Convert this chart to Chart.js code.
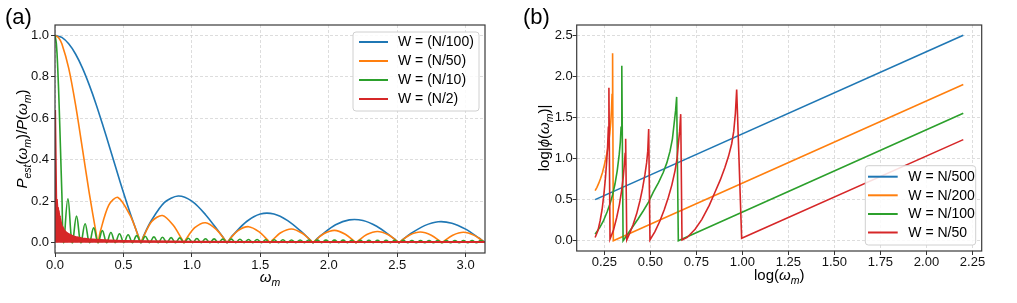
<!DOCTYPE html>
<html>
<head>
<meta charset="utf-8">
<script src="https://cdn.jsdelivr.net/npm/chart.js@4.4.1/dist/chart.umd.min.js"></script>
<style>
  html, body { margin: 0; padding: 0; background: #fff; }
  #wrap { position: relative; width: 1017px; height: 303px; }
  #chartA { position: absolute; left: 0; top: 0; }
  #chartB { position: absolute; left: 510px; top: 0; }
</style>
</head>
<body>
<div id="wrap">
  <canvas id="chartA" width="510" height="303"></canvas>
  <canvas id="chartB" width="507" height="303"></canvas>
</div>
<script>
// ---------- panel (a): P_est / P against omega ----------
const aLabels = ['W = (N/100)', 'W = (N/50)', 'W = (N/10)', 'W = (N/2)'];
const aXTicks = [0, 0.5, 1.0, 1.5, 2.0, 2.5, 3.0];
const aYTicks = [0, 0.2, 0.4, 0.6, 0.8, 1.0];

const aBlueX = [0, 0.05, 0.1, 0.15, 0.2, 0.25, 0.3, 0.35, 0.4, 0.45, 0.5, 0.55, 0.6, 0.628,
  0.65, 0.7, 0.8, 0.9, 1.0, 1.1, 1.2, 1.235, 1.257, 1.28, 1.3, 1.4, 1.5, 1.6, 1.7, 1.8, 1.86, 1.885,
  1.91, 1.95, 2.05, 2.15, 2.25, 2.35, 2.45, 2.49, 2.513, 2.54, 2.6, 2.7, 2.8, 2.9, 3.0, 3.1, 3.12, 3.1416];
const aBlueY = [1.0, 0.990, 0.959, 0.910, 0.843, 0.761, 0.668, 0.565, 0.458, 0.349, 0.242, 0.141, 0.048, 0.0,
  0.036, 0.102, 0.194, 0.225, 0.200, 0.135, 0.050, 0.019, 0.0, 0.020, 0.036, 0.102, 0.138, 0.138, 0.106, 0.053, 0.016, 0.0,
  0.016, 0.039, 0.086, 0.110, 0.107, 0.079, 0.033, 0.012, 0.0, 0.014, 0.044, 0.082, 0.101, 0.094, 0.065, 0.021, 0.011, 0.0];

const aOrangeX = [0, 0.025, 0.05, 0.1, 0.15, 0.2, 0.25, 0.3, 0.314,
  0.33, 0.393, 0.46, 0.550, 0.613, 0.628,
  0.643, 0.707, 0.785, 0.864, 0.927, 0.942,
  0.957, 1.021, 1.100, 1.178, 1.242, 1.257,
  1.272, 1.335, 1.414, 1.492, 1.556, 1.571,
  1.586, 1.649, 1.728, 1.806, 1.870, 1.885,
  1.900, 1.964, 2.042, 2.121, 2.184, 2.199,
  2.214, 2.278, 2.356, 2.435, 2.498, 2.513,
  2.528, 2.592, 2.670, 2.749, 2.812, 2.827,
  2.842, 2.906, 2.985, 3.063, 3.127, 3.1416];
const aOrangeY = [1.0, 0.990, 0.959, 0.842, 0.666, 0.455, 0.240, 0.047, 0.0,
  0.051, 0.181, 0.218, 0.130, 0.024, 0.0,
  0.024, 0.102, 0.131, 0.084, 0.0165, 0.0,
  0.0165, 0.072, 0.096, 0.064, 0.0128, 0.0,
  0.0128, 0.057, 0.077, 0.052, 0.0106, 0.0,
  0.0106, 0.048, 0.066, 0.045, 0.0093, 0.0,
  0.0093, 0.0425, 0.059, 0.0405, 0.0084, 0.0,
  0.0084, 0.039, 0.054, 0.038, 0.0079, 0.0,
  0.0079, 0.037, 0.051, 0.036, 0.0076, 0.0,
  0.0076, 0.036, 0.050, 0.035, 0.0075, 0.0];

const aGreenX = [0, 0.01, 0.02, 0.03, 0.04, 0.05, 0.0628,
  0.0942, 0.1257, 0.1571, 0.1885, 0.2199, 0.2513, 0.2827, 0.3142, 0.3456, 0.3770,
  0.4084, 0.4398, 0.4712, 0.5027, 0.5341, 0.5655, 0.5969, 0.6283, 0.6597, 0.6912,
  0.7226, 0.7540, 0.7854, 0.8168, 0.8482, 0.8796, 0.9111, 0.9425, 0.9739, 1.0053,
  1.0367, 1.0681, 1.0996, 1.1310, 1.1624, 1.1938, 1.2252, 1.2566, 1.2881, 1.3195,
  1.3509, 1.3823, 1.4137, 1.4451, 1.4765, 1.5080, 1.5394, 1.5708, 1.6022, 1.6336,
  1.6650, 1.6965, 1.7279, 1.7593, 1.7907, 1.8221, 1.8535, 1.8850, 1.9164, 1.9478,
  1.9792, 2.0106, 2.0420, 2.0735, 2.1049, 2.1363, 2.1677, 2.1991, 2.2305, 2.2619,
  2.2934, 2.3248, 2.3562, 2.3876, 2.4190, 2.4504, 2.4819, 2.5133, 2.5447, 2.5761,
  2.6075, 2.6389, 2.6704, 2.7018, 2.7332, 2.7646, 2.7960, 2.8274, 2.8588, 2.8903,
  2.9217, 2.9531, 2.9845, 3.0159, 3.0473, 3.0788, 3.1102, 3.1416];
const aGreenY = [1.0, 0.959, 0.842, 0.666, 0.455, 0.240, 0.0,
  0.212, 0, 0.128, 0, 0.091, 0, 0.071, 0, 0.058, 0,
  0.049, 0, 0.043, 0, 0.038, 0, 0.034, 0, 0.031, 0,
  0.028, 0, 0.026, 0, 0.024, 0, 0.023, 0, 0.021, 0,
  0.020, 0, 0.019, 0, 0.018, 0, 0.017, 0, 0.017, 0,
  0.016, 0, 0.015, 0, 0.015, 0, 0.014, 0, 0.014, 0,
  0.014, 0, 0.013, 0, 0.013, 0, 0.013, 0, 0.012, 0,
  0.012, 0, 0.012, 0, 0.012, 0, 0.011, 0, 0.011, 0,
  0.011, 0, 0.011, 0, 0.011, 0, 0.011, 0, 0.011, 0,
  0.010, 0, 0.010, 0, 0.010, 0, 0.010, 0, 0.010, 0,
  0.010, 0, 0.010, 0, 0.010, 0, 0.010, 0];

// red curve oscillates too fast to resolve: drawn as its filled envelope
const aRedX = [0, 0.004, 0.008, 0.011, 0.014, 0.018, 0.021, 0.026, 0.030, 0.035, 0.040, 0.048, 0.055,
  0.065, 0.08, 0.1, 0.13, 0.16, 0.2, 0.25, 0.3, 0.4, 0.5, 0.7, 1.0, 1.5, 2.0, 2.5, 3.1416];
const aRedY = [0.64, 0.64, 0.21, 0.19, 0.21, 0.15, 0.17, 0.12, 0.13, 0.10, 0.105, 0.08, 0.075,
  0.06, 0.05, 0.04, 0.031, 0.025, 0.02, 0.016, 0.013, 0.010, 0.008, 0.006, 0.004, 0.003, 0.003, 0.003, 0.003];

// ---------- panel (b): log|phi| against log(omega) ----------
const bLabels = ['W = N/500', 'W = N/200', 'W = N/100', 'W = N/50'];
const bXTicks = [0.25, 0.5, 0.75, 1.0, 1.25, 1.5, 1.75, 2.0, 2.25];
const bYTicks = [0, 0.5, 1.0, 1.5, 2.0, 2.5];

const bBlueX = [0.2, 2.2];
const bBlueY = [0.5, 2.5];
const bOrangeX = [0.2, 0.21, 0.22, 0.23, 0.24, 0.25, 0.26, 0.27, 0.28, 0.285, 0.289, 0.292, 0.294, 0.296,
  0.299, 2.2];
const bOrangeY = [0.61, 0.65, 0.70, 0.76, 0.83, 0.92, 1.02, 1.13, 1.31, 1.44, 1.59, 1.78, 1.98, 2.28,
  0.0, 1.9];
const bGreenX = [0.2, 0.225, 0.245, 0.265, 0.281, 0.295, 0.308, 0.32, 0.331, 0.337, 0.341, 0.344, 0.346,
  0.352, 0.38, 0.407, 0.435, 0.462, 0.49, 0.516, 0.545, 0.57, 0.59, 0.607, 0.62, 0.629, 0.637, 0.643,
  0.652, 2.2];
const bGreenY = [0.08, 0.16, 0.24, 0.35, 0.45, 0.56, 0.69, 0.85, 1.05, 1.2, 1.38, 1.65, 2.13,
  0.0, 0.09, 0.18, 0.27, 0.365, 0.47, 0.59, 0.71, 0.83, 0.95, 1.09, 1.24, 1.42, 1.58, 1.75,
  0.0, 1.55];
const bRedX = [0.2, 0.215, 0.227, 0.238, 0.248, 0.256, 0.263, 0.268, 0.272, 0.275,
  0.281, 0.30, 0.317, 0.332, 0.344, 0.353, 0.359, 0.363, 0.366,
  0.372, 0.39, 0.407, 0.426, 0.444, 0.458, 0.471, 0.48, 0.486, 0.491,
  0.498, 0.525, 0.552, 0.576, 0.598, 0.617, 0.634, 0.645, 0.652, 0.659, 0.665,
  0.672, 0.70, 0.743, 0.78, 0.82, 0.851, 0.88, 0.905, 0.925, 0.942, 0.953, 0.962, 0.969,
  0.996, 2.2];
const bRedY = [0.04, 0.12, 0.24, 0.38, 0.57, 0.76, 0.97, 1.15, 1.38, 1.86,
  0.02, 0.13, 0.28, 0.44, 0.61, 0.78, 0.93, 1.06, 1.24,
  0.01, 0.10, 0.20, 0.33, 0.49, 0.64, 0.81, 0.95, 1.09, 1.36,
  0.01, 0.11, 0.24, 0.38, 0.53, 0.68, 0.85, 1.0, 1.17, 1.33, 1.54,
  0.01, 0.04, 0.14, 0.26, 0.43, 0.59, 0.74, 0.89, 1.03, 1.18, 1.33, 1.55, 1.84,
  0.03, 1.23];

const COLORS = ['#1f77b4', '#ff7f0e', '#2ca02c', '#d62728'];
const FONT = '"Liberation Sans", Arial, sans-serif';

function pts(xs, ys) {
    return xs.map((x, i) => ({ x: x, y: ys[i] }));
}

function line(label, xs, ys, color, order, extra) {
    return Object.assign({
        label: label,
        data: pts(xs, ys),
        borderColor: color,
        backgroundColor: color,
        borderWidth: 1.6,
        pointRadius: 0,
        fill: false,
        order: order
    }, extra || {});
}

function makeScale(min, max, tickValues, digits, fitSize, isX, pad) {
    return {
        type: 'linear',
        min: min,
        max: max,
        afterBuildTicks: s => { s.ticks = tickValues.map(v => ({ value: v })); },
        afterFit: s => { if (isX) s.height = fitSize; else s.width = fitSize; },
        ticks: {
            callback: v => Number(v).toFixed(digits),
            color: '#111',
            font: { family: FONT, size: 13 },
            padding: pad,
            maxRotation: 0,
            autoSkip: false
        },
        grid: {
            color: '#d4d4d4', lineWidth: 0.8,
            drawTicks: true, tickLength: 4, tickColor: '#333', tickWidth: 1, tickBorderDash: []
        },
        border: { display: false, dash: [3, 2] }
    };
}

// text with italic / subscript pieces, centred on (x, y) baseline
function drawRich(ctx, parts, x, y, size, vertical) {
    const fontOf = s => (s.indexOf('i') >= 0 ? 'italic ' : '') +
        (s.indexOf('s') >= 0 ? size * 0.7 : size) + 'px ' + FONT;
    ctx.save();
    ctx.translate(x, y);
    if (vertical) ctx.rotate(-Math.PI / 2);
    let total = 0;
    parts.forEach(p => { ctx.font = fontOf(p[1]); total += ctx.measureText(p[0]).width; });
    let cx = -total / 2;
    ctx.textAlign = 'left';
    ctx.textBaseline = 'alphabetic';
    ctx.fillStyle = '#000';
    parts.forEach(p => {
        ctx.font = fontOf(p[1]);
        ctx.fillText(p[0], cx, p[1].indexOf('s') >= 0 ? size * 0.25 : 0);
        cx += ctx.measureText(p[0]).width;
    });
    ctx.restore();
}

function roundBox(ctx, x, y, w, h, r) {
    ctx.beginPath();
    ctx.moveTo(x + r, y);
    ctx.lineTo(x + w - r, y);
    ctx.quadraticCurveTo(x + w, y, x + w, y + r);
    ctx.lineTo(x + w, y + h - r);
    ctx.quadraticCurveTo(x + w, y + h, x + w - r, y + h);
    ctx.lineTo(x + r, y + h);
    ctx.quadraticCurveTo(x, y + h, x, y + h - r);
    ctx.lineTo(x, y + r);
    ctx.quadraticCurveTo(x, y, x + r, y);
    ctx.closePath();
}

// frame, panel letter, axis titles and a matplotlib style legend
function decor(opts) {
    return {
        id: 'decor',
        afterDraw(chart) {
            const ctx = chart.ctx;
            const a = chart.chartArea;
            ctx.save();
            ctx.strokeStyle = '#3a3a3a';
            ctx.lineWidth = 1.2;
            ctx.strokeRect(a.left, a.top, a.right - a.left, a.bottom - a.top);

            ctx.fillStyle = '#000';
            ctx.font = '22px ' + FONT;
            ctx.textAlign = 'left';
            ctx.textBaseline = 'alphabetic';
            ctx.fillText(opts.letter, opts.letterX, 23.5);

            drawRich(ctx, opts.xTitle, (a.left + a.right) / 2, opts.xTitleY, 15, false);
            drawRich(ctx, opts.yTitle, opts.yTitleX, (a.top + a.bottom) / 2, 15, true);

            const L = opts.legend;
            roundBox(ctx, L.x, L.y, L.w, L.h, 3);
            ctx.fillStyle = 'rgba(255,255,255,0.85)';
            ctx.fill();
            ctx.strokeStyle = '#d0d0d0';
            ctx.lineWidth = 1;
            ctx.stroke();
            chart.data.datasets.forEach((ds, i) => {
                const y = L.rows[i];
                ctx.strokeStyle = ds.borderColor;
                ctx.lineWidth = 2;
                ctx.beginPath();
                ctx.moveTo(L.x1, y);
                ctx.lineTo(L.x2, y);
                ctx.stroke();
                ctx.fillStyle = '#000';
                ctx.font = '14px ' + FONT;
                ctx.textBaseline = 'middle';
                ctx.fillText(ds.label, L.tx, y + 0.5);
            });
            ctx.restore();
        }
    };
}

function createPanelA() {
    const ctx = document.getElementById('chartA').getContext('2d');
    new Chart(ctx, {
        type: 'line',
        data: {
            datasets: [
                line(aLabels[0], aBlueX, aBlueY, COLORS[0], 4, { tension: 0.3 }),
                line(aLabels[1], aOrangeX, aOrangeY, COLORS[1], 3, { tension: 0.3 }),
                line(aLabels[2], aGreenX, aGreenY, COLORS[2], 2, { tension: 0.4 }),
                line(aLabels[3], aRedX, aRedY, COLORS[3], 1, { tension: 0, fill: 'origin', borderWidth: 2.2 })
            ]
        },
        options: {
            responsive: false,
            animation: false,
            devicePixelRatio: 1,
            layout: { padding: { top: 25, right: 25, left: 0, bottom: 0 } },
            plugins: { legend: { display: false }, tooltip: { enabled: false } },
            scales: {
                x: makeScale(0, 3.14159, aXTicks, 1, 50, true, 1),
                y: makeScale(-0.05, 1.05, aYTicks, 1, 55, false, 2)
            }
        },
        plugins: [decor({
            letter: '(a)', letterX: 5,
            xTitle: [['ω', 'i'], ['m', 'is']], xTitleY: 282,
            yTitle: [['P', 'i'], ['est', 'is'], ['(', ''], ['ω', 'i'], ['m', 'is'], [')', ''], ['/', ''],
                     ['P', 'i'], ['(', ''], ['ω', 'i'], ['m', 'is'], [')', '']],
            yTitleX: 27,
            legend: { x: 353, y: 32, w: 126, h: 79, rows: [42, 61, 80, 99], x1: 359, x2: 388, tx: 398 }
        })]
    });
}

function createPanelB() {
    const ctx = document.getElementById('chartB').getContext('2d');
    new Chart(ctx, {
        type: 'line',
        data: {
            datasets: [
                line(bLabels[0], bBlueX, bBlueY, COLORS[0], 4, { tension: 0 }),
                line(bLabels[1], bOrangeX, bOrangeY, COLORS[1], 3, { tension: 0 }),
                line(bLabels[2], bGreenX, bGreenY, COLORS[2], 2, { tension: 0 }),
                line(bLabels[3], bRedX, bRedY, COLORS[3], 1, { tension: 0 })
            ]
        },
        options: {
            responsive: false,
            animation: false,
            devicePixelRatio: 1,
            layout: { padding: { top: 25, right: 35.3, left: 0, bottom: 0 } },
            plugins: { legend: { display: false }, tooltip: { enabled: false } },
            scales: {
                x: makeScale(0.1, 2.3, bXTicks, 2, 52, true, 0),
                y: makeScale(-0.125, 2.625, bYTicks, 1, 66.7, false, 0)
            }
        },
        plugins: [decor({
            letter: '(b)', letterX: 13,
            xTitle: [['log(', ''], ['ω', 'i'], ['m', 'is'], [')', '']], xTitleY: 280,
            yTitle: [['log|', ''], ['ϕ', 'i'], ['(', ''], ['ω', 'i'], ['m', 'is'], [')|', '']],
            yTitleX: 39,
            legend: { x: 355.3, y: 165.7, w: 110.4, h: 79.3, rows: [176.7, 195.3, 214, 232.5], x1: 358, x2: 387.7, tx: 398.3 }
        })]
    });
}

window.onload = function() {
    createPanelA();
    createPanelB();
};
</script>
</body>
</html>
